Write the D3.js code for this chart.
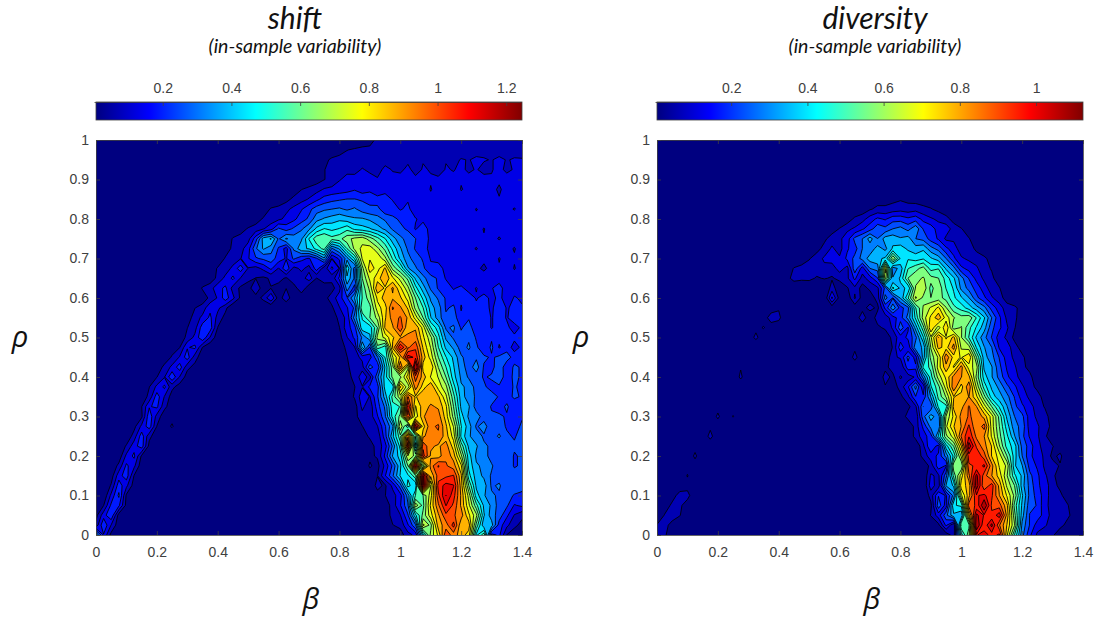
<!DOCTYPE html>
<html>
<head>
<meta charset="utf-8">
<script src="https://cdnjs.cloudflare.com/ajax/libs/d3/7.8.5/d3.min.js"></script>
<style>
  body { margin: 0; background: #fff; }
  .tick text { font-family: "Liberation Sans", sans-serif; font-size: 14px; fill: #404040; }
  .tick line, .axis path { stroke: #404040; stroke-width: 0.8px; }
  .title, .sub { font-family: Lato, sans-serif; font-style: italic; fill: #111; text-anchor: middle; }
  .sym { font-family: "Open Sans", sans-serif; font-style: italic; fill: #111; text-anchor: middle; }
</style>
</head>
<body>
<script>
// grid axes: beta 0..1.4 in steps of 0.025, rho 1..0 in steps of 0.025
var betaTicks = [0, 0.2, 0.4, 0.6, 0.8, 1, 1.2, 1.4];
var rhoTicks = [0, 0.1, 0.2, 0.3, 0.4, 0.5, 0.6, 0.7, 0.8, 0.9, 1];
var betaStep = 0.025, rhoStep = 0.025;

var shiftBarTicks = [0.2, 0.4, 0.6, 0.8, 1, 1.2];
var diversityBarTicks = [0.2, 0.4, 0.6, 0.8, 1];
var shiftMax = 1.24, diversityMax = 1.118;
var shiftLevelCount = 20, diversityLevelCount = 20;

// in hundredths, top row is rho = 1
var shiftRows = [
[0,0,0,0,0,0,0,0, 0,0,0,0,0,0,0,0, 0,0,0,0,0,0,0,0, 0,0,0,0,0,0,0,0, 0,0,1,2,5,7,8,7, 8,9,8,7,9,8,9,8, 7,9,8,7,9,8,9,8, 8],
[0,0,0,0,0,0,0,0, 0,0,0,0,0,0,0,0, 0,0,0,0,0,0,0,0, 0,0,0,0,0,1,2,3, 4,6,7,8,7,9,8,7, 10,8,9,7,10,9,8,9, 8,11,9,10,8,9,11,10, 9],
[0,0,0,0,0,0,0,0, 0,0,0,0,0,0,0,0, 0,0,0,0,0,0,0,0, 0,0,0,1,1,3,5,7, 8,9,10,9,10,11,10,11, 10,11,10,12,10,11,12,10, 13,12,14,13,12,14,12,13, 13],
[0,0,0,0,0,0,0,0, 0,0,0,0,0,0,0,0, 0,0,0,0,0,0,0,0, 0,0,0,0,2,5,6,8, 9,11,10,13,11,10,14,12, 11,14,10,13,12,9,13,12, 14,11,13,10,12,14,11,13, 13],
[0,0,0,0,0,0,0,0, 0,0,0,0,0,0,0,0, 0,0,0,0,0,0,0,0, 0,0,0,0,1,3,6,8, 12,14,15,14,15,13,15,14, 15,16,14,15,13,14,15,14, 13,15,14,15,13,14,15,13, 15],
[0,0,0,0,0,0,0,0, 0,0,0,0,0,0,0,0, 0,0,0,0,0,0,0,0, 0,0,2,6,8,10,13,14, 15,16,18,15,17,14,16,13, 15,18,13,16,12,15,13,16, 12,14,17,13,15,11,16,13, 14],
[0,0,0,0,0,0,0,0, 0,0,0,0,0,0,0,0, 0,0,0,0,0,0,0,0, 0,4,8,10,13,17,21,23, 24,25,25,24,23,21,22,18, 17,18,16,17,14,16,15,14, 15,13,16,14,15,13,14,15, 14],
[0,0,0,0,0,0,0,0, 0,0,0,0,0,0,0,0, 0,0,0,0,0,0,2,7, 9,11,14,18,23,28,30,31, 32,30,32,28,26,27,20,22, 18,20,15,18,16,14,17,15, 14,16,12,15,13,16,14,12, 15],
[0,0,0,0,0,0,0,0, 0,0,0,0,0,0,0,0, 0,0,0,0,0,3,7,9, 11,14,17,22,26,35,38,40, 42,40,38,38,36,33,30,26, 24,20,19,17,18,16,17,15, 15,17,14,16,14,15,13,16, 14],
[0,0,0,0,0,0,0,0, 0,0,0,0,0,0,0,0, 0,0,0,3,7,9,12,16, 26,22,26,30,36,45,50,48, 50,54,48,46,44,40,36,30, 26,24,18,22,16,18,14,17, 13,16,15,12,16,14,13,15, 14],
[0,0,0,0,0,0,0,0, 0,0,0,0,0,0,0,0, 0,0,7,9,10,22,40,44, 30,38,34,36,50,60,62,58, 60,66,70,72,65,58,50,40, 33,28,25,20,18,16,14,15, 16,14,15,13,14,12,14,15, 14],
[0,0,0,0,0,0,0,0, 0,0,0,0,0,0,0,0, 0,2,8,10,16,30,38,34, 24,16,32,42,44,52,58,30, 38,56,70,76,78,70,60,48, 38,30,24,22,16,18,15,13, 16,14,12,15,13,16,14,12, 15],
[0,0,0,0,0,0,0,0, 0,0,0,0,0,0,0,0, 0,7,9,12,18,24,26,28, 22,18,26,20,18,24,36,12, 20,35,50,75,80,80,70,55, 42,33,28,24,18,16,15,14, 15,13,15,14,16,12,15,13, 14],
[0,0,0,0,0,0,0,0, 0,0,0,0,0,0,0,1, 7,9,14,22,12,10,14,20, 12,24,10,14,10,22,8,20, 12,48,28,66,84,78,88,66, 56,38,32,26,20,22,16,15, 13,16,14,11,15,13,16,12, 15],
[0,0,0,0,0,0,0,0, 0,0,0,0,0,0,0,2, 8,14,20,12,8,6,5,7, 9,5,12,9,16,6,10,8, 20,42,30,62,76,84,92,82, 72,60,42,33,27,24,18,16, 14,17,13,16,14,15,13,15, 16],
[0,0,0,0,0,0,0,0, 0,0,0,0,0,0,7,10, 16,20,10,5,3,12,2,6, 3,6,2,12,1,3,2,4, 10,34,22,58,70,92,86,94, 82,70,52,40,30,24,22,18, 20,16,19,15,18,22,14,17, 16],
[0,0,0,0,0,0,0,0, 0,0,0,0,0,0,2,8, 13,22,14,5,4,3,8,18, 3,10,2,0,1,0,4,9, 16,24,38,56,66,82,90,92, 88,78,62,48,36,30,24,22, 20,22,18,21,17,20,16,19, 18],
[0,0,0,0,0,0,0,0, 0,0,0,0,0,6,9,17, 14,8,0,0,0,0,0,0, 0,0,0,0,1,0,2,5, 12,18,26,62,60,78,84,100, 94,86,66,56,40,34,24,26, 18,24,20,22,17,24,18,20, 19],
[0,0,0,0,0,0,0,0, 0,0,0,0,3,9,14,20, 10,4,0,0,0,0,0,0, 0,0,0,0,0,0,0,0, 9,14,34,50,62,70,86,96, 100,92,78,62,44,34,26,28, 20,24,20,24,18,22,18,22, 20],
[0,0,0,0,0,0,0,0, 0,0,0,0,6,10,22,22, 6,1,0,0,0,0,0,0, 0,0,0,0,0,0,0,0, 6,16,22,48,46,62,88,92, 104,88,92,78,56,46,30,32, 24,28,20,24,18,22,20,16, 20],
[0,0,0,0,0,0,0,0, 0,0,0,2,8,14,24,12, 2,0,0,0,0,0,0,0, 0,0,0,0,0,0,0,0, 4,12,20,32,42,70,76,86, 92,96,96,82,70,52,36,30, 27,30,24,22,24,20,24,20, 22],
[0,0,0,0,0,0,0,0, 0,0,3,6,18,20,6,1, 0,0,0,0,0,0,0,0, 0,0,0,0,0,0,0,0, 2,8,12,44,24,60,52,88, 112,98,104,86,74,56,42,36, 28,32,26,20,26,18,22,16, 20],
[0,0,0,0,0,0,0,0, 0,2,7,13,22,9,2,0, 0,0,0,0,0,0,0,0, 0,0,0,0,0,0,0,0, 0,6,10,14,16,30,50,74, 88,115,110,90,78,62,50,42, 32,28,30,26,24,26,28,22, 24],
[0,0,0,0,0,0,0,0, 2,8,14,22,8,4,1,0, 0,0,0,0,0,0,0,0, 0,0,0,0,0,0,0,0, 1,4,12,10,28,20,44,66, 100,72,128,84,86,68,56,44, 34,28,34,24,22,30,20,26, 24],
[0,0,0,0,0,0,0,1, 6,12,24,12,3,0,0,0, 0,0,0,0,0,0,0,0, 0,0,0,0,0,0,0,0, 0,4,8,16,10,30,46,64, 66,84,102,90,80,74,62,46, 36,30,28,24,26,28,22,26, 24],
[0,0,0,0,0,0,1,6, 14,20,8,3,1,0,0,0, 0,0,0,0,0,0,0,0, 0,0,0,0,0,0,0,0, 0,2,6,12,20,22,46,46, 88,70,96,84,92,78,70,52, 38,36,28,26,22,24,20,26, 22],
[0,0,0,0,0,0,2,8, 22,12,3,0,0,0,0,0, 0,0,0,0,0,0,0,0, 0,0,0,0,0,0,0,0, 0,2,7,16,12,24,40,58, 72,100,86,92,90,88,76,58, 40,34,30,26,28,24,22,26, 24],
[0,0,0,0,0,1,6,18, 20,8,2,0,0,0,0,0, 0,0,0,0,0,0,0,0, 0,0,0,0,0,0,0,0, 0,0,3,14,8,22,32,54, 56,112,80,90,94,92,82,62, 42,38,28,30,24,22,26,20, 24],
[0,0,0,0,0,0,5,23, 10,2,4,0,0,0,0,0, 0,0,0,0,0,0,0,0, 0,0,0,0,0,0,0,0, 0,0,4,10,9,18,30,52, 64,104,76,92,98,96,84,66, 46,36,34,28,26,26,24,24, 24],
[0,0,0,0,0,4,14,22, 6,3,7,1,0,0,0,0, 0,0,0,0,0,0,0,0, 0,0,0,0,0,0,0,0, 0,0,2,6,10,12,24,36, 74,50,116,84,98,100,88,74, 50,40,30,34,26,28,24,22, 26],
[0,0,0,0,1,9,22,8, 2,0,0,0,0,0,0,0, 0,0,0,0,0,0,0,0, 0,0,0,0,0,0,0,0, 0,0,0,4,7,8,22,42, 60,98,56,92,96,98,90,78, 48,38,34,30,28,32,26,24, 28],
[0,0,0,1,7,16,22,4, 1,0,0,0,0,0,0,0, 0,0,0,0,0,0,0,0, 0,0,0,0,0,0,0,0, 0,0,0,3,4,8,16,32, 52,110,46,104,94,92,96,84, 60,42,38,32,30,26,28,26, 28],
[0,0,0,2,14,20,5,1, 0,0,0,0,0,0,0,0, 0,0,0,0,0,0,0,0, 0,0,0,0,0,0,0,0, 0,0,0,2,5,7,20,38, 46,74,66,108,92,90,98,90, 70,46,36,34,28,26,30,24, 26],
[0,0,1,8,20,14,2,0, 0,0,0,0,0,0,0,0, 0,0,0,0,0,0,0,0, 0,0,0,0,0,0,0,0, 0,0,0,1,7,4,14,26, 42,62,118,64,96,106,100,96, 82,48,38,36,32,26,30,24, 26],
[0,0,3,16,22,6,1,0, 0,0,0,0,0,0,0,0, 0,0,0,0,0,0,0,0, 0,0,0,0,0,0,0,0, 0,0,0,1,3,6,18,30, 44,48,60,120,88,102,104,106, 88,52,40,36,30,28,26,28, 26],
[0,0,7,22,14,3,0,0, 0,0,0,0,0,0,0,0, 0,0,0,0,0,0,0,0, 0,0,0,0,0,0,0,0, 0,0,0,0,2,8,5,14, 28,52,44,122,74,108,114,112, 90,62,42,40,30,32,26,30, 26],
[0,1,14,26,5,0,0,0, 0,0,0,0,0,0,0,0, 0,0,0,0,0,0,0,0, 0,0,0,0,0,0,0,0, 0,0,0,0,2,4,6,10, 16,34,56,62,78,104,118,108, 92,72,46,38,32,30,28,24, 24],
[2,6,20,20,4,0,0,0, 0,0,0,0,0,0,0,0, 0,0,0,0,0,0,0,0, 0,0,0,0,0,0,0,0, 0,0,0,0,0,4,2,9, 18,30,72,60,82,98,112,104, 92,76,58,42,36,28,26,18, 20],
[4,16,24,3,0,0,0,0, 0,0,0,0,0,0,0,0, 0,0,0,0,0,0,0,0, 0,0,0,0,0,0,0,0, 0,0,0,0,0,2,3,8, 12,24,48,64,78,92,104,100, 96,82,70,44,34,28,20,12, 8],
[8,24,12,2,0,0,0,0, 0,0,0,0,0,0,0,0, 0,0,0,0,0,0,0,0, 0,0,0,0,0,0,0,0, 0,0,0,0,0,1,2,6, 8,18,30,76,66,90,96,108, 88,90,60,38,40,22,14,8, 4],
[38,18,4,0,0,0,0,0, 0,0,0,0,0,0,0,0, 0,0,0,0,0,0,0,0, 0,0,0,0,0,0,0,0, 0,0,0,0,0,0,0,0, 3,10,14,46,70,82,104,96, 90,84,48,60,16,20,6,2, 0]
];

var diversityRows = [
[0,0,0,0,0,0,0,0, 0,0,0,0,0,0,0,0, 0,0,0,0,0,0,0,0, 0,0,0,0,0,0,0,0, 0,0,0,0,0,0,0,0, 0,0,0,0,0,0,0,0, 0,0,0,0,0,0,0,0, 0],
[0,0,0,0,0,0,0,0, 0,0,0,0,0,0,0,0, 0,0,0,0,0,0,0,0, 0,0,0,0,0,0,0,0, 0,0,0,0,0,0,0,0, 0,0,0,0,0,0,0,0, 0,0,0,0,0,0,0,0, 0],
[0,0,0,0,0,0,0,0, 0,0,0,0,0,0,0,0, 0,0,0,0,0,0,0,0, 0,0,0,0,0,0,0,0, 0,0,0,0,0,0,0,0, 0,0,0,0,0,0,0,0, 0,0,0,0,0,0,0,0, 0],
[0,0,0,0,0,0,0,0, 0,0,0,0,0,0,0,0, 0,0,0,0,0,0,0,0, 0,0,0,0,0,0,0,0, 0,0,0,0,0,0,0,0, 0,0,0,0,0,0,0,0, 0,0,0,0,0,0,0,0, 0],
[0,0,0,0,0,0,0,0, 0,0,0,0,0,0,0,0, 0,0,0,0,0,0,0,0, 0,0,0,0,0,0,0,0, 0,0,0,0,0,0,0,0, 0,0,0,0,0,0,0,0, 0,0,0,0,0,0,0,0, 0],
[0,0,0,0,0,0,0,0, 0,0,0,0,0,0,0,0, 0,0,0,0,0,0,0,0, 0,0,0,0,0,0,0,0, 0,0,0,0,0,0,0,0, 0,0,0,0,0,0,0,0, 0,0,0,0,0,0,0,0, 0],
[0,0,0,0,0,0,0,0, 0,0,0,0,0,0,0,0, 0,0,0,0,0,0,0,0, 0,0,0,1,2,3,3,4, 5,4,3,3,2,1,0,0, 0,0,0,0,0,0,0,0, 0,0,0,0,0,0,0,0, 0],
[0,0,0,0,0,0,0,0, 0,0,0,0,0,0,0,0, 0,0,0,0,0,0,0,0, 0,0,0,2,5,7,7,8, 9,8,9,7,6,4,1,0, 0,0,0,0,0,0,0,0, 0,0,0,0,0,0,0,0, 0],
[0,0,0,0,0,0,0,0, 0,0,0,0,0,0,0,0, 0,0,0,0,0,0,0,0, 0,2,7,9,14,18,16,20, 20,18,20,15,12,10,8,3, 0,0,0,0,0,0,0,0, 0,0,0,0,0,0,0,0, 0],
[0,0,0,0,0,0,0,0, 0,0,0,0,0,0,0,0, 0,0,0,0,0,0,0,2, 6,10,12,16,20,26,24,28, 30,26,32,22,20,14,14,9, 6,2,0,0,0,0,0,0, 0,0,0,0,0,0,0,0, 0],
[0,0,0,0,0,0,0,0, 0,0,0,0,0,0,0,0, 0,0,0,0,0,0,4,9, 10,14,24,28,36,28,36,37, 34,36,28,26,20,16,10,10, 7,6,2,0,0,0,0,0, 0,0,0,0,0,0,0,0, 0],
[0,0,0,0,0,0,0,0, 0,0,0,0,0,0,0,0, 0,0,0,0,0,3,8,12, 9,16,20,28,30,36,32,40, 42,38,36,38,30,26,18,14, 8,9,4,1,0,0,0,0, 0,0,0,0,0,0,0,0, 0],
[0,0,0,0,0,0,0,0, 0,0,0,0,0,0,0,0, 0,0,0,1,5,9,12,14, 12,18,24,30,36,38,40,62, 44,44,42,44,40,36,28,18, 12,10,9,7,3,0,0,0, 0,0,0,0,0,0,0,0, 0],
[0,0,0,0,0,0,0,0, 0,0,0,0,0,0,0,0, 0,1,6,8,9,8,10,8, 14,9,26,14,28,30,70,30, 36,50,54,58,48,50,38,30, 18,15,12,8,5,2,0,0, 0,0,0,0,0,0,0,0, 0],
[0,0,0,0,0,0,0,0, 0,0,0,0,0,0,0,0, 0,3,8,7,7,5,6,5, 7,10,18,9,14,22,64,34, 40,56,60,62,58,56,48,40, 30,22,15,10,7,2,0,0, 0,0,0,0,0,0,0,0, 0],
[0,0,0,0,0,0,0,0, 0,0,0,0,0,0,0,0, 0,0,0,0,1,0,0,8, 2,5,10,3,7,10,24,46, 38,40,62,66,54,60,50,44, 32,26,20,14,8,6,1,0, 0,0,0,0,0,0,0,0, 0],
[0,0,0,0,0,0,0,0, 0,0,0,0,0,0,0,0, 0,0,0,0,0,0,0,18, 3,1,12,3,2,8,30,22, 34,50,68,60,56,58,54,46, 40,34,24,18,12,8,3,0, 0,0,0,0,0,0,0,0, 0],
[0,0,0,0,0,0,0,0, 0,0,0,0,0,0,1,3, 5,3,0,0,0,0,0,2, 0,3,2,3,8,4,18,32, 20,26,50,62,68,74,62,52, 48,42,36,30,20,14,8,7, 3,0,0,0,0,0,0,0, 0],
[0,0,0,0,0,0,0,0, 0,0,0,0,0,0,3,8, 7,1,0,0,0,0,0,0, 0,2,0,10,0,9,8,14, 20,30,46,64,74,82,70,62, 58,60,50,40,28,18,10,7, 2,0,0,0,0,0,0,0, 0],
[0,0,0,0,0,0,0,0, 0,0,0,0,1,4,6,3, 2,0,0,0,0,0,0,0, 0,0,3,0,0,4,7,12, 26,16,36,54,78,64,78,58, 62,52,44,36,24,18,12,6, 1,0,0,0,0,0,0,0, 0],
[0,0,0,0,0,0,0,0, 0,0,0,0,2,7,2,0, 0,0,0,0,0,0,0,0, 0,0,0,0,0,0,0,8, 14,18,26,44,66,84,72,80, 62,50,38,30,22,14,10,4, 0,0,0,0,0,0,0,0, 0],
[0,0,0,0,0,0,0,0, 0,0,0,1,0,0,0,0, 0,0,0,0,0,0,0,0, 0,0,4,0,0,0,0,6, 20,12,32,34,62,80,76,86, 66,64,44,34,28,16,14,8, 3,0,0,0,0,0,0,0, 0],
[0,0,0,0,0,0,0,0, 0,0,0,3,0,0,0,0, 0,0,0,0,0,0,0,0, 0,0,8,0,0,0,0,10, 12,24,14,36,58,68,88,76, 72,78,56,36,30,22,14,10, 7,2,0,0,0,0,0,0, 0],
[0,0,0,0,0,0,0,0, 0,0,0,5,0,0,0,0, 0,0,0,0,0,0,0,0, 0,0,0,0,0,2,4,8, 6,20,18,46,52,70,82,72, 86,70,64,38,34,24,16,12, 7,4,1,0,0,0,0,0, 0],
[0,0,0,0,0,0,0,0, 0,0,0,7,0,0,0,0, 0,0,0,0,0,0,0,0, 0,0,0,0,0,0,8,4, 12,8,12,30,48,64,74,86, 84,80,60,42,34,26,18,13, 9,7,2,0,0,0,0,0, 0],
[0,0,0,0,0,0,0,0, 0,0,0,0,0,0,0,0, 0,0,0,0,0,0,0,0, 0,0,0,0,0,0,5,2, 8,16,30,12,44,54,70,88, 76,88,66,48,38,32,24,18, 12,8,4,1,0,0,0,0, 0],
[0,0,0,0,0,0,0,0, 0,0,0,0,0,0,0,0, 0,0,0,0,0,0,0,0, 0,0,0,0,0,0,2,3, 4,10,22,18,34,52,62,78, 80,84,74,58,42,36,30,22, 14,10,8,3,0,0,0,0, 0],
[0,0,0,0,0,0,0,0, 3,0,2,0,0,0,0,0, 0,0,0,0,0,0,0,0, 0,0,0,0,0,0,0,0, 0,4,10,28,24,46,48,80, 82,90,84,70,56,44,34,24, 18,13,9,5,0,0,0,0, 0],
[0,0,0,0,0,0,0,0, 7,0,6,0,0,0,0,0, 0,0,0,0,0,0,0,0, 0,0,0,0,0,0,0,0, 1,8,6,26,36,30,62,74, 86,90,88,82,70,54,38,28, 24,14,10,8,2,0,0,0, 0],
[0,0,0,0,0,0,0,4, 1,0,0,0,0,0,0,0, 0,0,0,0,0,0,0,0, 0,0,0,0,0,0,0,0, 0,0,8,18,30,28,66,78, 84,96,84,92,70,56,42,30, 26,14,12,8,4,0,0,0, 0],
[0,0,0,0,0,0,0,8, 0,0,0,0,0,0,0,0, 0,0,0,0,0,0,0,0, 0,0,0,0,0,0,0,0, 0,0,8,14,20,40,60,70, 90,100,88,84,72,58,46,34, 24,16,12,7,0,0,0,0, 0],
[0,0,0,0,0,3,3,0, 0,0,0,0,0,0,0,0, 0,0,0,0,0,0,0,0, 0,0,0,0,0,0,0,0, 0,0,0,10,22,14,42,56, 78,110,94,86,78,62,48,42, 26,20,12,10,6,2,0,0, 0],
[0,0,0,0,0,7,0,0, 0,0,0,0,0,0,0,0, 0,0,0,0,0,0,0,0, 0,0,0,0,0,0,0,0, 0,0,0,8,14,18,30,46, 68,98,100,92,78,70,56,42, 28,18,14,10,4,7,0,0, 0],
[0,0,0,0,3,2,0,0, 0,0,0,0,0,0,0,0, 0,0,0,0,0,0,0,0, 0,0,0,0,0,0,0,0, 0,0,0,0,8,20,16,60, 56,94,96,102,86,72,66,40, 34,20,16,10,8,5,0,0, 0],
[0,0,0,0,6,0,0,0, 0,0,0,0,0,0,0,0, 0,0,0,0,0,0,0,0, 0,0,0,0,0,0,0,0, 0,0,0,0,12,10,26,52, 70,88,108,92,84,76,62,46, 38,24,18,12,8,0,0,0, 0],
[0,0,0,2,3,0,0,0, 0,0,0,0,0,0,0,0, 0,0,0,0,0,0,0,0, 0,0,0,0,0,0,0,0, 0,0,0,0,14,8,34,40, 76,80,110,90,98,82,66,56, 36,26,18,14,8,4,0,0, 0],
[0,0,3,8,8,0,0,0, 0,0,0,0,0,0,0,0, 0,0,0,0,0,0,0,0, 0,0,0,0,0,0,0,0, 0,0,0,0,8,22,16,30, 66,82,100,102,96,84,72,60, 40,26,20,14,8,7,2,0, 0],
[0,2,7,7,2,0,0,0, 0,0,0,0,0,0,0,0, 0,0,0,0,0,0,0,0, 0,0,0,0,0,0,0,0, 0,0,0,0,4,26,14,44, 46,92,96,112,94,92,80,54, 38,24,22,12,10,7,6,0, 0],
[0,6,9,6,0,0,0,0, 0,0,0,0,0,0,0,0, 0,0,0,0,0,0,0,0, 0,0,0,0,0,0,0,0, 0,0,0,0,6,14,26,38, 34,76,108,100,96,104,82,58, 36,22,20,14,9,8,7,2, 0],
[6,8,3,0,0,0,0,0, 0,0,0,0,0,0,0,0, 0,0,0,0,0,0,0,0, 0,0,0,0,0,0,0,0, 0,0,0,0,0,4,18,6, 56,54,112,96,108,90,78,62, 32,22,14,12,8,8,3,0, 0],
[12,7,0,0,0,0,0,0, 0,0,0,0,0,0,0,0, 0,0,0,0,0,0,0,0, 0,0,0,0,0,0,0,0, 0,0,0,0,0,0,2,8, 42,60,100,104,98,102,74,50, 30,18,10,7,7,0,0,0, 0]
];

var width = 1101, height = 624;
var svg = d3.select("body").append("svg")
    .attr("width", width)
    .attr("height", height)
    .style("display", "block");

var defs = svg.append("defs");

// matlab style jet colormap
function jet(t) {
  function c(v) { return Math.round(255 * Math.max(0, Math.min(1, v))); }
  return "rgb(" + c(Math.min(4 * t - 1.5, -4 * t + 4.5)) + "," +
                  c(Math.min(4 * t - 0.5, -4 * t + 3.5)) + "," +
                  c(Math.min(4 * t + 0.5, -4 * t + 2.5)) + ")";
}

function drawPanel(opts) {
  var left = opts.left, right = opts.left + 426, top = 140, bottom = 535;
  var x = d3.scaleLinear().domain([0, 1.4]).range([left, right]);
  var y = d3.scaleLinear().domain([0, 1]).range([bottom, top]);
  var color = d3.scaleSequential(jet).domain([0, opts.max]);

  var nx = opts.rows[0].length, ny = opts.rows.length;
  var flat = [];
  opts.rows.forEach(function(row) {
    for (var i = 0; i < nx; i++) flat.push((row[i] || 0) / 100);
  });

  var levels = d3.range(1, opts.levelCount).map(function(k) { return k * opts.max / opts.levelCount; });
  var contours = d3.contours().size([nx, ny]).thresholds(levels)(flat);

  // d3 puts grid points at cell centres, hence the half cell
  var project = d3.geoTransform({
    point: function(px, py) {
      this.stream.point(x((px - 0.5) * betaStep), y(1 - (py - 0.5) * rhoStep));
    }
  });
  var path = d3.geoPath(project);

  defs.append("clipPath").attr("id", "clip" + opts.id)
    .append("rect")
      .attr("x", left).attr("y", top)
      .attr("width", right - left).attr("height", bottom - top);

  var g = svg.append("g");
  g.append("rect")
    .attr("x", left).attr("y", top)
    .attr("width", right - left).attr("height", bottom - top)
    .attr("fill", color(0));

  g.append("g").attr("clip-path", "url(#clip" + opts.id + ")")
    .selectAll("path")
    .data(contours)
    .enter().append("path")
      .attr("d", path)
      .attr("fill", function(d) { return color(d.value); })
      .attr("stroke", "#000")
      .attr("stroke-width", 1)
      .attr("stroke-opacity", 0.85)
      .attr("stroke-linejoin", "miter");

  // box with inward ticks
  svg.append("g").attr("class", "axis")
    .attr("transform", "translate(0," + bottom + ")")
    .call(d3.axisBottom(x).tickValues(betaTicks).tickFormat(d3.format("")).tickSizeInner(-4).tickSizeOuter(0).tickPadding(12));
  svg.append("g").attr("class", "axis")
    .attr("transform", "translate(0," + top + ")")
    .call(d3.axisTop(x).tickValues(betaTicks).tickFormat("").tickSizeInner(-4).tickSizeOuter(0));
  svg.append("g").attr("class", "axis")
    .attr("transform", "translate(" + left + ",0)")
    .call(d3.axisLeft(y).tickValues(rhoTicks).tickFormat(d3.format("")).tickSizeInner(-4).tickSizeOuter(0).tickPadding(7));
  svg.append("g").attr("class", "axis")
    .attr("transform", "translate(" + right + ",0)")
    .call(d3.axisRight(y).tickValues(rhoTicks).tickFormat("").tickSizeInner(-4).tickSizeOuter(0));

  // colorbar
  var barTop = 102, barBottom = 120;
  var bar = d3.scaleLinear().domain([0, opts.max]).range([left, right]);
  var grad = defs.append("linearGradient").attr("id", "jet" + opts.id);
  d3.range(0, 1.0001, 0.125).forEach(function(t) {
    grad.append("stop").attr("offset", t).attr("stop-color", jet(t));
  });
  svg.append("rect")
    .attr("x", left).attr("y", barTop)
    .attr("width", right - left).attr("height", barBottom - barTop)
    .attr("fill", "url(#jet" + opts.id + ")");
  svg.append("g").attr("class", "axis")
    .attr("transform", "translate(-2," + barTop + ")")
    .call(d3.axisTop(bar).tickValues(opts.barTicks).tickFormat(d3.format("")).tickSizeInner(-4).tickSizeOuter(0).tickPadding(9));
  svg.append("rect")
    .attr("x", left).attr("y", barTop)
    .attr("width", right - left).attr("height", barBottom - barTop)
    .attr("fill", "none").attr("stroke", "#404040").attr("stroke-width", 0.8);

  // labels
  svg.append("text").attr("class", "title").attr("x", opts.titleX).attr("y", 29)
    .style("font-size", "30px").text(opts.title);
  svg.append("text").attr("class", "sub").attr("x", opts.titleX).attr("y", 53)
    .style("font-size", "19.5px").text("(in-sample variability)");
  svg.append("text").attr("class", "sym").attr("x", left - 76).attr("y", 347)
    .style("font-size", "29px").text("ρ");
  svg.append("text").attr("class", "sym").attr("x", left + 215).attr("y", 609)
    .style("font-size", "29px").text("β");
}

drawPanel({ id: "a", left: 96, rows: shiftRows, max: shiftMax, levelCount: shiftLevelCount,
            barTicks: shiftBarTicks, title: "shift", titleX: 295 });
drawPanel({ id: "b", left: 657, rows: diversityRows, max: diversityMax, levelCount: diversityLevelCount,
            barTicks: diversityBarTicks, title: "diversity", titleX: 875 });
</script>
</body>
</html>
